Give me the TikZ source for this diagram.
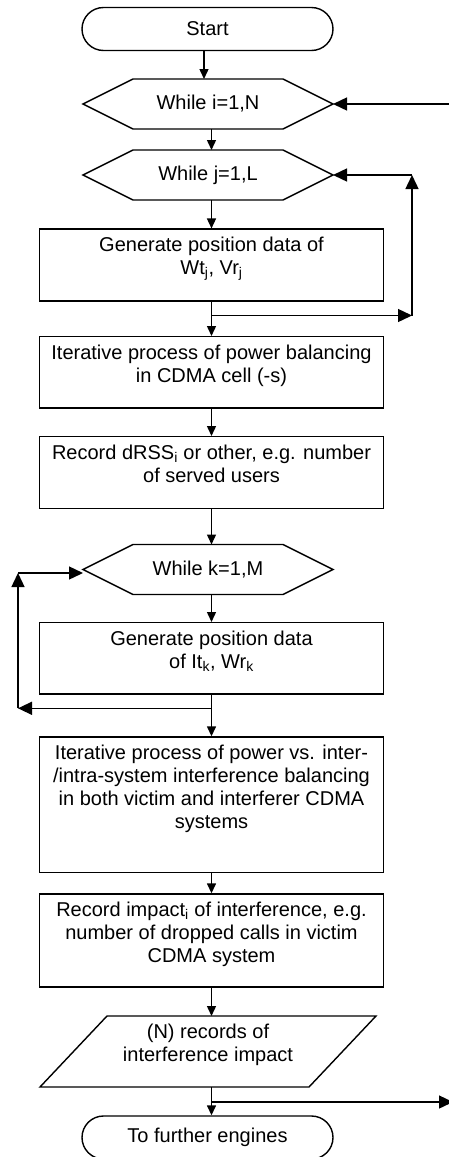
\documentclass[tikz,border=0pt]{standalone}
\usepackage{fontspec}
\setmainfont{Liberation Sans}
\usetikzlibrary{arrows.meta,calc}
\newcommand{\btext}[3]{\parbox[c][#1][t]{#2}{\centering\rule{0pt}{22.7pt}#3}}
\newcommand{\hexpath}[1]{\draw[lw] (#1.west) -- ([xshift=50pt]#1.north west) -- ([xshift=-50pt]#1.north east) -- (#1.east) -- ([xshift=-50pt]#1.south east) -- ([xshift=50pt]#1.south west) -- cycle;}
\begin{document}
\begin{tikzpicture}[x=1pt,y=-1pt,
  lw/.style={line width=1.4pt},
  every node/.style={font=\fontsize{20}{23}\selectfont},
  term/.style={draw, lw, rounded corners=21.5pt, minimum width=251pt, minimum height=43pt, inner sep=0pt},
  hexn/.style={minimum width=250pt, minimum height=50pt, inner sep=0pt, outer sep=0pt},
  procbox/.style={draw, lw, inner sep=0pt},
  paran/.style={inner sep=0pt, outer sep=0pt},
  arr/.style={lw, -{Triangle[length=10pt,width=9pt]}},
  bigarr/.style={lw, -{Triangle[length=14pt,width=13pt]}},
]
\useasboundingbox (0,0) rectangle (449,1157);
\fill[white] (0,0) rectangle (449,1157);

\node[term] (start) at (207.5,29) {Start};
\node[hexn] (hexI) at (208,104) {While i=1,N};
\node[hexn] (hexJ) at (208,175) {While j=1,L};
\node[procbox] (box1) at (211.5,265) {\btext{71.7pt}{343.5pt}{Generate position data of\\Wt\textsubscript{j}, Vr\textsubscript{j}}};
\node[procbox] (box2) at (211.5,372.35) {\btext{71.3pt}{343.5pt}{Iterative process of power balancing\\in CDMA cell (-s)}};
\node[procbox] (box3) at (211.5,472.7) {\btext{72pt}{343.5pt}{Record dRSS\textsubscript{i} or other, e.g. number\\of served users}};
\node[hexn] (hexK) at (208,569.5) {While k=1,M};
\node[procbox] (box4) at (211.5,658.35) {\btext{71.3pt}{343.5pt}{Generate position data\\of It\textsubscript{k}, Wr\textsubscript{k}}};
\node[procbox] (box5) at (211.5,804.85) {\btext{135.7pt}{343.5pt}{Iterative process of power vs. inter-\\/intra-system interference balancing\\in both victim and interferer CDMA\\systems}};
\node[procbox] (box6) at (211.5,940.5) {\btext{93pt}{343.5pt}{Record impact\textsubscript{i} of interference, e.g.\\number of dropped calls in victim\\CDMA system}};
\node[paran] (rec) at (208,1051.5) {\btext{71pt}{336pt}{(N) records of\\interference impact}};
\node[term] (end) at (207.5,1137.5) {To further engines};

\hexpath{hexI}
\hexpath{hexJ}
\hexpath{hexK}
\draw[lw] (rec.south west) -- ([xshift=-67pt]rec.south east) -- (rec.north east) -- ([xshift=67pt]rec.north west) -- cycle;

\coordinate (s1) at ([xshift=-3.5pt]start.south);
\draw[arr] (s1) -- (s1 |- hexI.north);
\draw[arr] (hexI.south -| box1) -- (hexJ.north -| box1);
\draw[arr] (hexJ.south -| box1) -- (box1.north);
\draw[arr] (box1.south) -- (box2.north);
\draw[arr] (box2.south) -- (box3.north);
\draw[arr] (box3.south) -- (hexK.north -| box3);
\draw[arr] (hexK.south -| box3) -- (box4.north);
\draw[arr] (box4.south) -- (box5.north);
\draw[arr] (box5.south) -- (box6.north);
\draw[arr] (box6.south) -- (rec.north -| box6);
\draw[arr] (rec.south -| box6) -- (end.north -| box6);

\coordinate (bj) at (211.5,315.5);
\coordinate (jc1) at (412,315.5);
\coordinate (jc2) at (412,175);
\draw[bigarr] (bj) -- (jc1);
\draw[bigarr] (jc1) -- (jc2);
\draw[bigarr] (jc2) -- (hexJ.east);

\coordinate (bk) at (211.5,708.3);
\coordinate (kc1) at (18,708.3);
\coordinate (kc2) at (18,573);
\draw[bigarr] (bk) -- (kc1);
\draw[bigarr] (kc1) -- (kc2);
\draw[bigarr] (kc2) -- (kc2 -| hexK.west);

\coordinate (iin) at (453,104);
\draw[bigarr] (iin) -- (hexI.east);

\coordinate (bn) at (211.5,1102);
\coordinate (nout) at (453,1102);
\draw[bigarr] (bn) -- (nout);
\end{tikzpicture}
\end{document}
